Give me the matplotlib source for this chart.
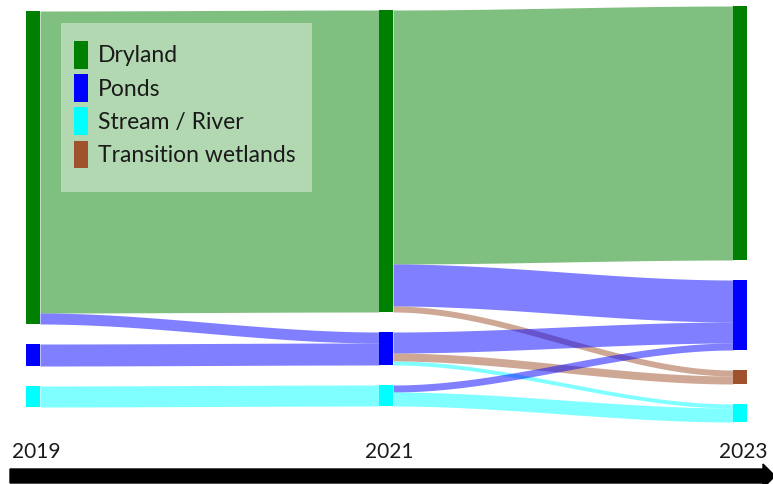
import numpy as np
import matplotlib.pyplot as plt
from matplotlib.patches import Rectangle, Patch, FancyArrow

plt.rcParams['font.family'] = ['Lato', 'DejaVu Sans']

# Land-cover classes and colours
classes = ['Dryland', 'Ponds', 'Stream / River', 'Transition wetlands']
class_colors = ['#008000', '#0000ff', '#00ffff', '#a0522d']
years = ['2019', '2021', '2023']

# Node order within each year column (top to bottom)
col_order = [
    ['Dryland', 'Ponds', 'Stream / River'],
    ['Dryland', 'Ponds', 'Stream / River'],
    ['Dryland', 'Ponds', 'Transition wetlands', 'Stream / River'],
]

# Flows between consecutive years (source year index, source class, target class, value)
link_year = [0, 0, 0, 0, 1, 1, 1, 1, 1, 1, 1, 1]
link_src = ['Dryland', 'Dryland', 'Ponds', 'Stream / River',
            'Dryland', 'Dryland', 'Dryland',
            'Ponds', 'Ponds', 'Ponds',
            'Stream / River', 'Stream / River']
link_tgt = ['Dryland', 'Ponds', 'Ponds', 'Stream / River',
            'Dryland', 'Ponds', 'Transition wetlands',
            'Ponds', 'Transition wetlands', 'Stream / River',
            'Ponds', 'Stream / River']
link_val = [302, 11, 22, 21, 254, 42, 6, 21, 8, 4, 7, 14]

color_of = dict(zip(classes, class_colors))

# layout (pixels)
W, H = 773, 484
col_x = [26, 379, 733]
col_center = [209, 208, 214]
node_w = 14
gap = 20

fig = plt.figure(figsize=(W / 100, H / 100), dpi=100)
ax = fig.add_axes([0, 0, 1, 1])
ax.set_xlim(0, W)
ax.set_ylim(H, 0)
ax.axis('off')

# node sizes = max(inflow, outflow)
node_val = {}
for c, order in enumerate(col_order):
    for name in order:
        out_v = sum(v for y, s, v in zip(link_year, link_src, link_val) if y == c and s == name)
        in_v = sum(v for y, t, v in zip(link_year, link_tgt, link_val) if y == c - 1 and t == name)
        node_val[(c, name)] = max(out_v, in_v)

node_top = {}
for c, order in enumerate(col_order):
    total = sum(node_val[(c, n)] for n in order) + gap * (len(order) - 1)
    y = col_center[c] - total / 2
    for n in order:
        node_top[(c, n)] = y
        y += node_val[(c, n)] + gap

# link stacking: outflows sorted by target position, inflows by source position
def rank(c, n):
    return col_order[c].index(n)

out_off = dict(node_top)
in_off = dict(node_top)
idx = range(len(link_val))
src_pos = {}
for i in sorted(idx, key=lambda i: (link_year[i], rank(link_year[i], link_src[i]), rank(link_year[i] + 1, link_tgt[i]))):
    k = (link_year[i], link_src[i])
    src_pos[i] = out_off[k]
    out_off[k] += link_val[i]
tgt_pos = {}
for i in sorted(idx, key=lambda i: (link_year[i], rank(link_year[i] + 1, link_tgt[i]), rank(link_year[i], link_src[i]))):
    k = (link_year[i] + 1, link_tgt[i])
    tgt_pos[i] = in_off[k]
    in_off[k] += link_val[i]

t = np.linspace(0, 1, 200)
s = 3 * t ** 2 - 2 * t ** 3
for i in idx:
    c = link_year[i]
    x0 = col_x[c] + node_w
    x1 = col_x[c + 1]
    xs = x0 + (x1 - x0) * t
    y_top = src_pos[i] + (tgt_pos[i] - src_pos[i]) * s
    ax.fill_between(xs, y_top, y_top + link_val[i], color=color_of[link_tgt[i]],
                    alpha=0.5, linewidth=0)

for (c, n), y in node_top.items():
    ax.add_patch(Rectangle((col_x[c], y), node_w, node_val[(c, n)],
                           facecolor=color_of[n], edgecolor='none', zorder=3))

# legend
ax.add_patch(Rectangle((61, 23), 251, 169, facecolor='white', alpha=0.4,
                       edgecolor='none', zorder=4))
handles = [Patch(facecolor=col, edgecolor='none') for col in class_colors]
leg = ax.legend(handles, classes, loc='upper left', bbox_to_anchor=(74, 41),
                bbox_transform=ax.transData, frameon=False, fontsize=16.5,
                handlelength=0.61, handleheight=1.47, handletextpad=0.45,
                labelspacing=0.25, borderpad=0, borderaxespad=0)
for txt in leg.get_texts():
    txt.set_color('#1a1a1a')
leg.set_zorder(5)

# year labels and time arrow
for c, yr in enumerate(years):
    ax.text(col_x[c] + node_w / 2 + 3, 458, yr, ha='center', va='baseline',
            fontsize=15, color='#1a1a1a')
ax.add_patch(FancyArrow(10, 476, 765, 0, width=14, head_width=24, head_length=12,
                        length_includes_head=True, color='black', zorder=3))

fig.savefig('out.png', dpi=100)
